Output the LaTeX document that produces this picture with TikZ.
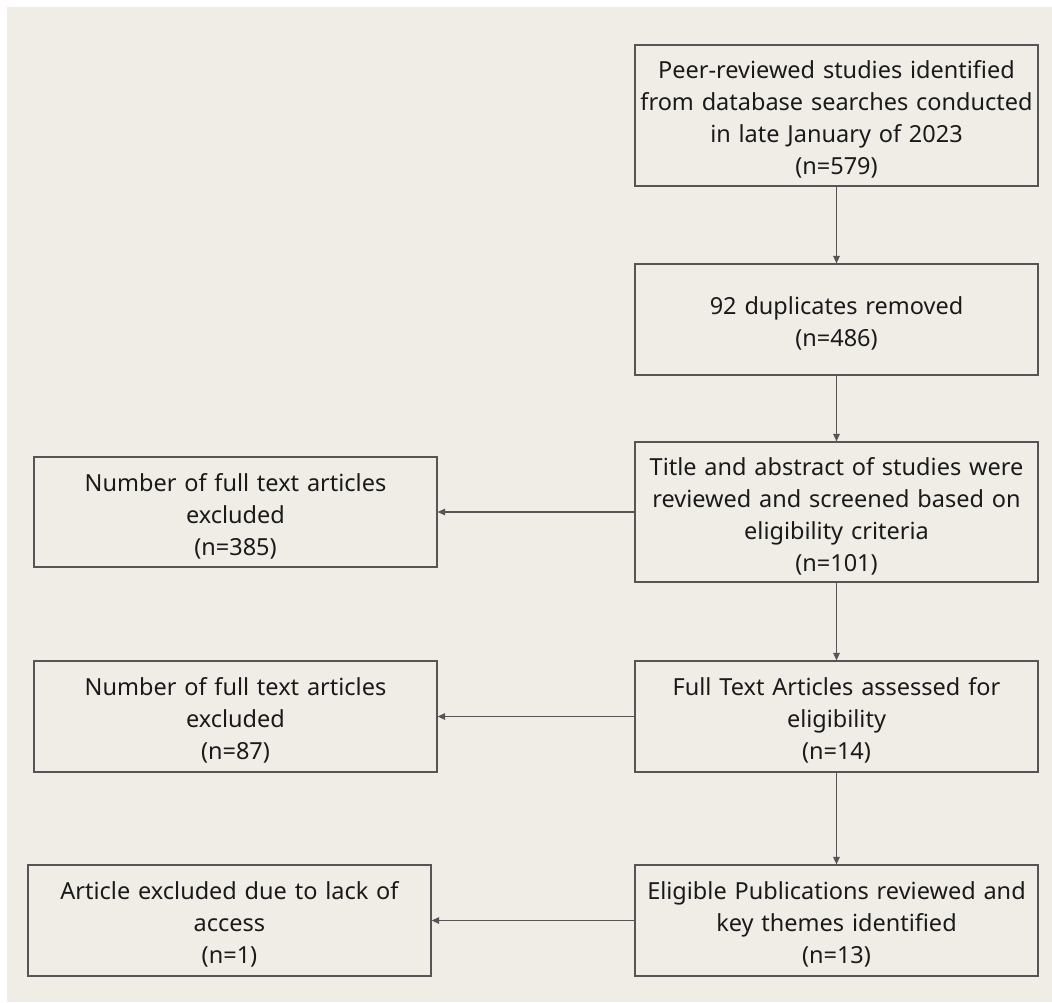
\documentclass[tikz,border=0pt]{standalone}
\usepackage{fontspec}
\setmainfont{Noto Sans}
\usetikzlibrary{arrows.meta}
\definecolor{bg}{HTML}{F0EDE7}
\definecolor{edge}{HTML}{555555}
\definecolor{ink}{HTML}{1A1A1A}
\begin{document}
\begin{tikzpicture}[x=1pt,y=-1pt,
  flowbox/.style={draw=edge, line width=1.2pt, rectangle, minimum width=403pt, text width=396pt,
    align=center, inner sep=0pt, text=ink, font=\fontsize{23.5}{32}\selectfont,
    execute at begin node={\rule{0pt}{26pt}}},
  conn/.style={draw=edge, line width=1.2pt, -{Triangle[length=7.5pt,width=6.5pt]}}]
\useasboundingbox (0,0) rectangle (1052,1002);
\fill[white] (0,0) rectangle (1052,1002);
\fill[bg] (7,7) rectangle (1052,1002);
\node[flowbox, minimum height=141pt] (a) at (836.5,115.5) {Peer-reviewed studies identified\\from database searches conducted\\in late January of 2023\\(n=579)};
\node[flowbox, minimum height=111pt] (b) at (836.5,319.5) {92 duplicates removed\\(n=486)};
\node[flowbox, minimum height=140pt] (c) at (836.5,512) {Title and abstract of studies were\\reviewed and screened based on\\eligibility criteria\\(n=101)};
\node[flowbox, minimum height=111pt] (d) at (836.5,716.5) {Full Text Articles assessed for\\eligibility\\(n=14)};
\node[flowbox, minimum height=111pt] (e) at (836.5,920.5) {Eligible Publications reviewed and\\key themes identified\\(n=13)};
\node[flowbox, minimum height=110pt] (l1) at (235.5,512) {Number of full text articles\\excluded\\(n=385)};
\node[flowbox, minimum height=111pt] (l2) at (235.5,716.5) {Number of full text articles\\excluded\\(n=87)};
\node[flowbox, minimum height=111pt] (l3) at (229.5,920.5) {Article excluded due to lack of\\access\\(n=1)};
\draw[conn] (a) -- (b);
\draw[conn] (b) -- (c);
\draw[conn] (c) -- (d);
\draw[conn] (d) -- (e);
\draw[conn] (c) -- (l1);
\draw[conn] (d) -- (l2);
\draw[conn] (e) -- (l3);
\end{tikzpicture}
\end{document}
